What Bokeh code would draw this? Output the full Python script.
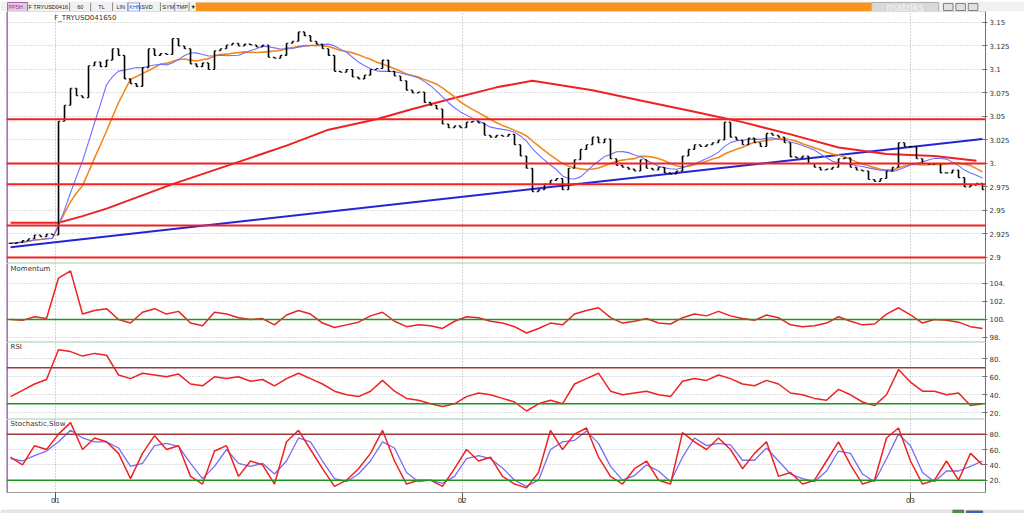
import numpy as np
import pandas as pd
from bokeh.plotting import figure
from bokeh.models import Range1d, FixedTicker, Span, Label, ColumnDataSource
from bokeh.layouts import column
from bokeh.embed import file_html
from bokeh.resources import INLINE
from bokeh.core.properties import value

# ---------------- data ----------------
close = [
    2.915, 2.916, 2.918, 2.920, 2.924, 2.922, 2.925, 2.924, 3.045, 3.062,
    3.080, 3.072, 3.070, 3.104, 3.108, 3.103, 3.110, 3.122, 3.115, 3.090,
    3.085, 3.082, 3.102, 3.122, 3.115, 3.117, 3.116, 3.133, 3.125, 3.122,
    3.106, 3.103, 3.107, 3.100, 3.120, 3.122, 3.126, 3.128, 3.125, 3.127,
    3.126, 3.124, 3.126, 3.113, 3.112, 3.115, 3.128, 3.130, 3.140, 3.136,
    3.130, 3.127, 3.122, 3.115, 3.098, 3.097, 3.100, 3.092, 3.090, 3.094,
    3.100, 3.101, 3.110, 3.098, 3.093, 3.088, 3.078, 3.075, 3.076, 3.065,
    3.062, 3.058, 3.042, 3.038, 3.040, 3.038, 3.044, 3.045, 3.043, 3.030,
    3.028, 3.030, 3.029, 3.031, 3.020, 3.008, 2.995, 2.970, 2.972, 2.978,
    2.982, 2.984, 2.972, 2.995, 3.004, 3.015, 3.020, 3.028, 3.022, 3.026,
    3.005, 2.998, 2.996, 2.994, 2.992, 3.004, 2.995, 2.993, 2.996, 2.990,
    2.989, 2.992, 3.008, 3.015, 3.020, 3.018, 3.020, 3.022, 3.025, 3.044,
    3.028, 3.025, 3.020, 3.027, 3.022, 3.018, 3.032, 3.030, 3.028, 3.022,
    3.007, 3.006, 3.008, 3.000, 2.996, 2.993, 2.994, 2.996, 3.005, 3.006,
    2.996, 2.993, 2.992, 2.983, 2.981, 2.984, 2.992, 2.996, 3.022, 3.018,
    3.018, 3.005, 3.000, 2.999, 3.000, 2.990, 2.990, 2.993, 2.985, 2.975,
    2.977, 2.979, 2.972,
]
long_ma_idx = [0, 8, 12, 16, 27, 40, 46, 53, 61, 67, 73, 81, 87, 97, 105, 114, 122, 130, 138, 146, 154, 161]
long_ma = [2.937, 2.937, 2.944, 2.952, 2.978, 3.006, 3.019, 3.036, 3.047, 3.058, 3.068, 3.081, 3.088,
           3.078, 3.067, 3.055, 3.044, 3.031, 3.017, 3.010, 3.008, 3.003]
trend_idx = [0, 162]
trend = [2.911, 3.026]
levels = [3.047, 3.000, 2.978, 2.934, 2.900]

momentum = [
    100.0, 99.9, 100.3, 100.1, 104.6, 105.4, 100.6, 101.0, 101.2, 100.0,
    99.6, 100.8, 101.2, 100.6, 100.9, 99.6, 99.3, 100.8, 100.6, 100.2,
    100.0, 100.1, 99.4, 100.5, 101.0, 100.6, 99.6, 99.1, 99.4, 99.7,
    100.4, 100.8, 99.8, 99.2, 99.4, 99.3, 99.0, 99.8, 100.3, 100.2,
    99.8, 99.6, 99.2, 98.5, 99.0, 99.6, 99.4, 100.6, 101.0, 101.3,
    100.2, 99.6, 99.8, 100.1, 99.6, 99.5, 100.2, 100.6, 100.4, 100.9,
    100.4, 100.1, 99.9, 100.5, 100.2, 99.4, 99.2, 99.3, 99.6, 100.3,
    99.8, 99.4, 99.5, 100.6, 101.3, 100.5, 99.6, 100.0, 99.9, 99.7,
    99.2, 99.0,
]
rsi = [
    38, 45, 52, 57, 90, 88, 83, 86, 84, 62,
    58, 64, 62, 60, 63, 52, 50, 60, 58, 60,
    55, 57, 50, 58, 64, 58, 52, 44, 40, 38,
    44, 56, 44, 36, 34, 30, 27, 30, 38, 42,
    40, 36, 32, 22, 30, 34, 30, 52, 58, 64,
    44, 40, 42, 44, 40, 38, 55, 58, 56, 62,
    58, 52, 50, 56, 52, 42, 40, 36, 34, 46,
    40, 32, 28, 40, 68, 54, 44, 44, 40, 42,
    28, 30,
]
stoch_k = [
    50, 40, 65, 60, 80, 95, 60, 75, 70, 55,
    22, 55, 78, 60, 65, 25, 15, 58, 65, 25,
    45, 40, 15, 70, 85, 60, 35, 12, 20, 35,
    55, 85, 45, 15, 20, 20, 12, 35, 60, 45,
    50, 25, 15, 10, 30, 85, 60, 80, 88, 50,
    25, 15, 35, 45, 20, 15, 82, 70, 60, 75,
    60, 35, 55, 70, 25, 30, 15, 20, 45, 70,
    40, 15, 20, 75, 88, 45, 15, 20, 45, 20,
    55, 40,
]
stoch_d = [
    48, 45, 52, 58, 70, 85, 75, 70, 70, 62,
    38, 42, 65, 68, 64, 42, 22, 38, 60, 42,
    38, 42, 28, 45, 75, 70, 45, 22, 18, 28,
    45, 70, 62, 30, 18, 20, 16, 25, 48, 52,
    48, 36, 20, 12, 20, 60, 70, 72, 84, 68,
    38, 20, 26, 40, 32, 18, 50, 75, 65, 68,
    66, 46, 46, 62, 45, 28, 22, 18, 32, 58,
    55, 28, 18, 48, 80, 65, 30, 18, 32, 32,
    38, 45,
]
price_ticks = [2.9, 2.925, 2.95, 2.975, 3.0, 3.025, 3.05, 3.075, 3.1, 3.125, 3.15]
price_labels = ["2.9", "2.925", "2.95", "2.975", "3.", "3.025", "3.05", "3.075", "3.1", "3.125", "3.15"]
mom_ticks = [98, 100, 102, 104]
mom_labels = ["98.", "100.", "102.", "104."]
osc_ticks = [20, 40, 60, 80]
osc_labels = ["20.", "40.", "60.", "80."]
day_ticks = [7.5, 75.3, 150.0]
day_labels = ["01", "02", "03"]

# ---------------- styling helpers ----------------
W = 1024
FONT = "DejaVu Sans"
XR = Range1d(-0.67, 162.5)
RED = "#ee2222"


def panel(h, y0, y1, ticks, labels, bottom=False):
    p = figure(width=W, height=h, x_range=XR, y_range=Range1d(y0, y1),
               output_backend="svg", toolbar_location=None,
               y_axis_location="right", x_axis_location="below" if bottom else None,
               min_border_left=6, min_border_right=39, min_border_top=0,
               min_border_bottom=13 if bottom else 0)
    p.background_fill_color = "white"
    p.border_fill_color = "white"
    p.outline_line_color = "#cfe5cf"
    ax = p.yaxis[0]
    ax.ticker = FixedTicker(ticks=ticks, minor_ticks=[])
    ax.major_label_overrides = {t: l for t, l in zip(ticks, labels)}
    ax.major_label_text_font = FONT
    ax.major_label_text_font_size = "7px"
    ax.major_label_text_color = "#333333"
    ax.axis_line_color = "#707070"
    ax.major_tick_line_color = "#707070"
    ax.major_tick_in = 3
    ax.major_tick_out = 2
    ax.major_label_standoff = 2
    p.ygrid.ticker = FixedTicker(ticks=ticks)
    p.ygrid.grid_line_color = "#bcbcbc"
    p.ygrid.grid_line_dash = "1 2"
    p.xgrid.ticker = FixedTicker(ticks=day_ticks)
    p.xgrid.grid_line_color = "#a8a8a8"
    p.xgrid.grid_line_dash = "1 2"
    p.add_layout(Span(location=XR.start, dimension="height", line_color="#b46fcc", line_width=3))
    if bottom:
        xa = p.xaxis[0]
        xa.ticker = FixedTicker(ticks=day_ticks, minor_ticks=[])
        xa.major_label_overrides = {t: l for t, l in zip(day_ticks, day_labels)}
        xa.major_label_text_align = "left"
        xa.major_label_text_font = FONT
        xa.major_label_text_font_size = "7px"
        xa.major_label_text_color = "#333333"
        xa.axis_line_color = "#a0a0a0"
        xa.major_tick_line_color = "#555555"
        xa.major_tick_in = 0
        xa.major_tick_out = 10
        xa.major_label_standoff = -6
    return p


def title(p, x, y, txt):
    p.add_layout(Label(x=x, y=y, text=txt, text_font=FONT, text_font_size="7px",
                       text_color="#333333", text_baseline="top", text_align="left"))


# ---------------- toolbar ----------------
tb = figure(width=W, height=11, x_range=Range1d(0, W), y_range=Range1d(11, 0),
            output_backend="svg", toolbar_location=None, x_axis_location=None,
            y_axis_location=None, min_border=0)
tb.outline_line_color = None
tb.grid.visible = False
tb.background_fill_color = "#f1f1f1"
tb.border_fill_color = "#f1f1f1"
tb.quad(left=[1], right=[22], top=[1], bottom=[10], fill_color="#e3c8e3", line_color="#b060b0")
tb.quad(left=[198], right=[905], top=[1], bottom=[10], fill_color="#f7941d", line_color=None)
tb.quad(left=[905], right=[975], top=[1], bottom=[10], fill_color="#d9d9d9", line_color="#b0b0b0")
tb.quad(left=[127], right=[139], top=[1.5], bottom=[9.5], fill_color="#ffffff", line_color="#9aa6d8")
tb.segment(x0=[66, 88, 111, 127, 139, 161, 176, 191], y0=[1] * 8,
           x1=[66, 88, 111, 127, 139, 161, 176, 191], y1=[10] * 8,
           line_color="#8a8a8a", line_width=1)
tb.text(x=[2, 23, 74, 96, 115, 128.5, 141, 163, 177.5, 192.5],
        y=[5.8] * 10,
        text=["PP5H", "F TRYUSD0416", "60", "TL", "LIN", "KHN", "SVD", "SYM", "TMP", "▼"],
        text_font=value("Liberation Sans"), text_font_size="5.5px", text_baseline="middle",
        text_color=["#a03090", "#222222", "#222222", "#222222", "#222222", "#1a2ecc",
                    "#222222", "#222222", "#222222", "#222222"])
tb.text(x=[940], y=[5.5], text=["matriks"], text_font=value("DejaVu Sans"),
        text_font_size="10px", text_baseline="middle", text_align="center", text_color="#f4f4f4")
tb.quad(left=[980, 993, 1006], right=[990, 1003, 1016], top=[2, 2, 2], bottom=[9, 9, 9],
        fill_color="#e0e0e0", line_color="#808080")

# ---------------- main price panel ----------------
pm = panel(252, 2.8936, 3.1617, price_ticks, price_labels)
for lv in levels:
    pm.add_layout(Span(location=lv, dimension="width", line_color=RED, line_width=2))
pm.line(trend_idx, trend, line_color="#2424d4", line_width=2)
pm.line(long_ma_idx, long_ma, line_color=RED, line_width=2)

cs = pd.Series(close)
ma_fast = cs.rolling(9, min_periods=1).mean()
ma_slow = cs.rolling(13, min_periods=1).mean()
idx = np.arange(len(close))
pm.line(idx, ma_slow, line_color="#f08a1c", line_width=1.6)
pm.line(idx, ma_fast, line_color="#7070ff", line_width=1.1)

opn = [close[0]] + close[:-1]
src = ColumnDataSource(dict(x=idx, xl=idx - 0.3, xr=idx + 0.3, o=opn, c=close))
pm.segment(x0="x", y0="o", x1="x", y1="c", source=src, line_color="black", line_width=1.6)
pm.segment(x0="xl", y0="o", x1="x", y1="o", source=src, line_color="black", line_width=1.1)
pm.segment(x0="x", y0="c", x1="xr", y1="c", source=src, line_color="black", line_width=1.1)
title(pm, 7.3, 3.159, "F_TRYUSD041650")

# ---------------- momentum ----------------
pmo = panel(79, 97.44, 106.22, mom_ticks, mom_labels)
pmo.add_layout(Span(location=100, dimension="width", line_color="#1e961e", line_width=1.5))
pmo.line(np.arange(len(momentum)) * 2, momentum, line_color=RED, line_width=1.5)
title(pmo, 0, 106.0, "Momentum")

# ---------------- RSI ----------------
pr = panel(77, 12.56, 98.1, osc_ticks, osc_labels)
pr.add_layout(Span(location=70, dimension="width", line_color="#a03838", line_width=1.5))
pr.add_layout(Span(location=30, dimension="width", line_color="#1e961e", line_width=1.5))
pr.line(np.arange(len(rsi)) * 2, rsi, line_color=RED, line_width=1.5)
title(pr, 0, 97.5, "RSI")

# ---------------- Stochastic ----------------
ps = panel(86, 3.96, 99.1, osc_ticks, osc_labels, bottom=True)
ps.add_layout(Span(location=80, dimension="width", line_color="#a03838", line_width=1.5))
ps.add_layout(Span(location=20, dimension="width", line_color="#1e961e", line_width=1.5))
ps.line(np.arange(len(stoch_d)) * 2, stoch_d, line_color="#7a6cf0", line_width=1.3)
ps.line(np.arange(len(stoch_k)) * 2, stoch_k, line_color=RED, line_width=1.5)
title(ps, 0, 98.5, "Stochastic,Slow")

# ---------------- status bar ----------------
sb = figure(width=W, height=8, x_range=Range1d(0, W), y_range=Range1d(8, 0),
            output_backend="svg", toolbar_location=None, x_axis_location=None,
            y_axis_location=None, min_border=0)
sb.outline_line_color = None
sb.grid.visible = False
sb.background_fill_color = "#e4e4e4"
sb.border_fill_color = "#e4e4e4"
sb.quad(left=[990, 1004], right=[1001, 1021], top=[0.5, 1.5], bottom=[7.5, 6.5],
        fill_color=["#3aa03a", "#4060c0"], line_color="#606060")

layout = column(tb, pm, pmo, pr, ps, sb, spacing=0)
open("out.html", "w").write(file_html(layout, INLINE))
